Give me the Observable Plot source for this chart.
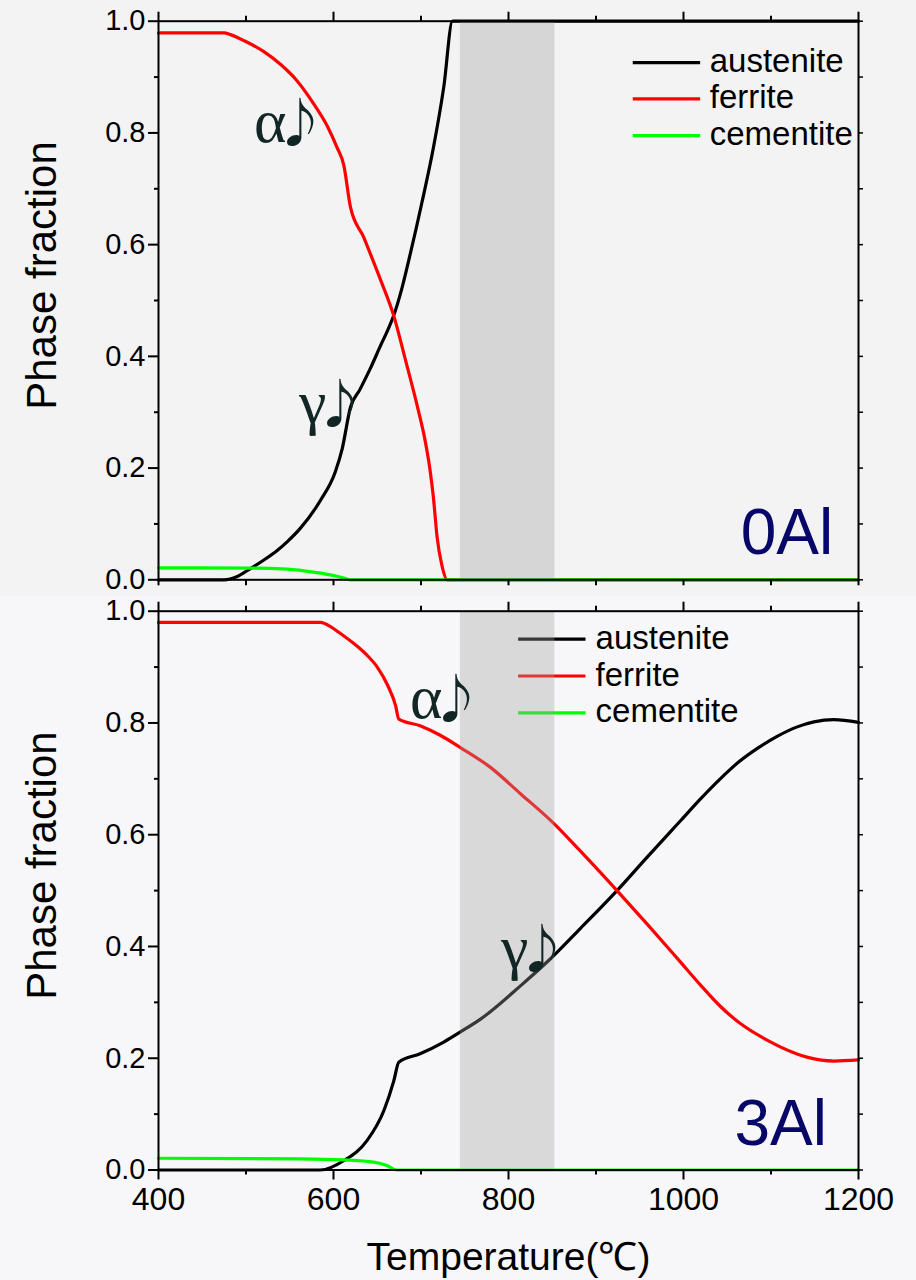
<!DOCTYPE html>
<html>
<head>
<meta charset="utf-8">
<script src="https://cdn.jsdelivr.net/npm/d3@7"></script>
<script src="https://cdn.jsdelivr.net/npm/@observablehq/plot@0.6"></script>
<style>
  @font-face {
    font-family: "GreekNote";
    src: local("Noto Sans CJK SC Bold"), local("NotoSansCJKsc-Bold"), local("Noto Sans CJK SC"), local("Noto Sans CJK SC Regular"), local("NotoSansCJKsc-Regular");
    unicode-range: U+266A;
    size-adjust: 84%;
  }
  @font-face {
    font-family: "GreekNote";
    src: local("Liberation Serif"), local("LiberationSerif");
    unicode-range: U+0000-2669, U+266B-FFFF;
  }
  html, body { margin: 0; padding: 0; background: #f4f4f6; }
  #chart { width: 916px; }
  #chart svg { display: block; }
  g[font-family^="GreekNote"] text { letter-spacing: -12px; }
</style>
</head>
<body>
<div id="chart"></div>
<script>
// ---------- data ----------
const seriesNames = ["austenite", "ferrite", "cementite"];
const seriesColors = ["#000000", "#ff0000", "#00ff00"];

// Panel 0Al
const austenite0T = [400, 475, 490, 505, 520, 536, 547, 562, 585, 602, 610, 619.4, 630, 642, 654, 662, 669, 677, 686, 701, 714, 726, 736, 1200];
const austenite0  = [0, 0, 0.006, 0.02, 0.035, 0.053, 0.068, 0.092, 0.142, 0.193, 0.235, 0.309, 0.34, 0.378, 0.42, 0.447, 0.474, 0.515, 0.572, 0.675, 0.772, 0.882, 1, 1];
const ferrite0T = [400, 475, 482, 498, 520, 540, 558, 577, 593, 604, 611.8, 619.4, 634.6, 642, 654, 669, 682, 697, 704, 710, 714, 718.5, 724, 730, 1200];
const ferrite0  = [0.979, 0.979, 0.976, 0.965, 0.946, 0.922, 0.894, 0.853, 0.812, 0.774, 0.742, 0.667, 0.613, 0.584, 0.536, 0.472, 0.395, 0.303, 0.255, 0.2, 0.15, 0.075, 0.025, 0, 0];
const cementite0T = [400, 509, 547, 577, 600, 612, 619, 1200];
const cementite0  = [0.0215, 0.021, 0.019, 0.0137, 0.0077, 0.003, 0, 0];

// Panel 3Al
const austenite3T = [400, 585, 612, 638.5, 657.5, 669, 674.6, 699, 726, 745, 768, 814, 848, 882, 924, 958.5, 996.6, 1020, 1042, 1063, 1084, 1107, 1130, 1149, 1172, 1200];
const austenite3  = [0, 0, 0.017, 0.053, 0.106, 0.16, 0.193, 0.208, 0.229, 0.247, 0.27, 0.33, 0.378, 0.432, 0.5, 0.56, 0.625, 0.665, 0.7, 0.73, 0.754, 0.776, 0.793, 0.802, 0.806, 0.801];
const ferrite3T = [400, 585, 597, 608, 625, 638.5, 650, 662, 671, 674.6, 699, 722, 745, 779, 814, 852, 882, 924, 958.5, 996.6, 1020, 1042, 1065, 1096, 1141, 1172, 1200];
const ferrite3  = [0.98, 0.98, 0.972, 0.96, 0.94, 0.921, 0.9, 0.867, 0.831, 0.807, 0.795, 0.778, 0.756, 0.721, 0.673, 0.62, 0.571, 0.5, 0.44, 0.372, 0.33, 0.293, 0.262, 0.232, 0.202, 0.195, 0.197];
const cementite3T = [400, 562, 612, 646, 661, 672.3, 1200];
const cementite3  = [0.021, 0.02, 0.018, 0.014, 0.008, 0, 0];

// shaded temperature window
const bandStart = [745];
const bandEnd = [853];

// tick values
const xMajorTicks = [400, 600, 800, 1000, 1200];
const xMinorTicks = [500, 700, 900, 1100];
const yMajorTicks = [0, 0.2, 0.4, 0.6, 0.8, 1.0];
const yMinorTicks = [0.1, 0.3, 0.5, 0.7, 0.9];

// texts
const panelNames = ["0Al", "3Al"];
const greekText = ["α♪", "γ♪"];
const greekT0 = [508.6, 560];   const greekV0 = [0.783, 0.28];
const greekT3 = [687, 791];     const greekV3 = [0.808, 0.362];
const yTitle = "Phase fraction";
const xTitle = "Temperature(℃)";

// ---------- helpers ----------
function table(Ts, Vs, name) { return Ts.map((t, i) => ({T: t, v: Vs[i], name})); }

function panel({series, labelT, labelV, name, height, marginTop, marginBottom, legend, showXLabels, bg, nameT, nameV}) {
  const lines = series.map((s, i) => Plot.line(s, {x: "T", y: "v", stroke: seriesColors[i], strokeWidth: 3.2, strokeLinejoin: "round", curve: "monotone-x"}));
  const legendRows = seriesNames.map((n, i) => ({name: n, color: seriesColors[i], v: legend.v[i]}));
  const greekRows = greekText.map((t, i) => ({t, T: labelT[i], v: labelV[i]}));
  const marks = [
    ...lines,
    Plot.link(legendRows, {x1: () => legend.x1, x2: () => legend.x2, y1: "v", y2: "v", stroke: d => d.color, strokeWidth: 3.2}),
    Plot.text(legendRows, {x: () => legend.tx, y: "v", text: "name", textAnchor: "start", lineAnchor: "middle", dy: -1, fontSize: 33, fill: "black"}),
    Plot.rect(bandStart.map((s, i) => ({s, e: bandEnd[i]})), {x1: "s", x2: "e", fill: "#a0a0a0", fillOpacity: 0.35}),
    Plot.frame({stroke: "black", strokeWidth: 2}),
    Plot.axisY({anchor: "left", ticks: yMajorTicks, tickSize: 10, tickPadding: 3, tickFormat: d => d.toFixed(1), fontSize: 29, strokeWidth: 2, label: null}),
    Plot.axisY({anchor: "left", ticks: yMinorTicks, tickSize: 4, tickFormat: () => "", strokeWidth: 2, label: null}),
    Plot.axisY({anchor: "right", ticks: [...yMajorTicks, ...yMinorTicks], tickSize: 4, tickFormat: () => "", strokeWidth: 1.5, label: null}),
    Plot.axisX({anchor: "top", ticks: xMajorTicks, tickSize: 10, tickFormat: () => "", strokeWidth: 2, label: null}),
    Plot.axisX({anchor: "top", ticks: xMinorTicks, tickSize: 6, tickFormat: () => "", strokeWidth: 2, label: null}),
    showXLabels
      ? Plot.axisX({anchor: "bottom", ticks: xMajorTicks, tickSize: 10, tickPadding: 7, tickFormat: d => String(d), fontSize: 32, strokeWidth: 2, label: null})
      : Plot.axisX({anchor: "bottom", ticks: xMajorTicks, tickSize: 6, tickFormat: () => "", strokeWidth: 2, label: null}),
    Plot.axisX({anchor: "bottom", ticks: xMinorTicks, tickSize: showXLabels ? 5 : 6, tickFormat: () => "", strokeWidth: 2, label: null}),
    Plot.text([yTitle], {text: d => d, frameAnchor: "left", textAnchor: "middle", rotate: -90, dx: -103, dy: -25, lineAnchor: "bottom", fontSize: 42, fill: "black"}),
    Plot.text(greekRows, {x: "T", y: "v", text: "t", textAnchor: "start", lineAnchor: "bottom", fontSize: 62, fontFamily: "GreekNote, 'Liberation Serif', serif", fill: "#132626"}),
    Plot.text([name], {text: d => d, x: () => nameT, y: () => nameV, textAnchor: "end", lineAnchor: "bottom", fontSize: 64, fill: "#070768"})
  ];
  if (showXLabels) {
    marks.push(Plot.text([xTitle], {text: d => d, frameAnchor: "bottom", dy: 99.5, lineAnchor: "bottom", fontSize: 39, fill: "black"}));
  }
  return Plot.plot({
    width: 916,
    height,
    marginLeft: 158,
    marginRight: 58,
    marginTop,
    marginBottom,
    x: {domain: [400, 1200], label: null},
    y: {domain: [0, 1], label: null},
    style: {background: bg, color: "black", fontFamily: "'Liberation Sans', Arial, sans-serif", overflow: "visible"},
    marks
  });
}

const topPanel = panel({
  series: [table(austenite0T, austenite0), table(ferrite0T, ferrite0), table(cementite0T, cementite0)],
  labelT: greekT0, labelV: greekV0, name: panelNames[0],
  nameT: 1171, nameV: 0.047,
  height: 596, marginTop: 20.7, marginBottom: 16.7,
  legend: {x1: 942, x2: 1019, tx: 1030, v: [0.926, 0.861, 0.795]},
  showXLabels: false, bg: "#f3f3f4"
});
const bottomPanel = panel({
  series: [table(austenite3T, austenite3), table(ferrite3T, ferrite3), table(cementite3T, cementite3)],
  labelT: greekT3, labelV: greekV3, name: panelNames[1],
  nameT: 1164, nameV: 0.044,
  height: 684, marginTop: 14.7, marginBottom: 110.5,
  legend: {x1: 811, x2: 888, tx: 899.5, v: [0.950, 0.884, 0.818]},
  showXLabels: true, bg: "#f7f7f9"
});
document.getElementById("chart").append(topPanel, bottomPanel);
</script>
</body>
</html>
